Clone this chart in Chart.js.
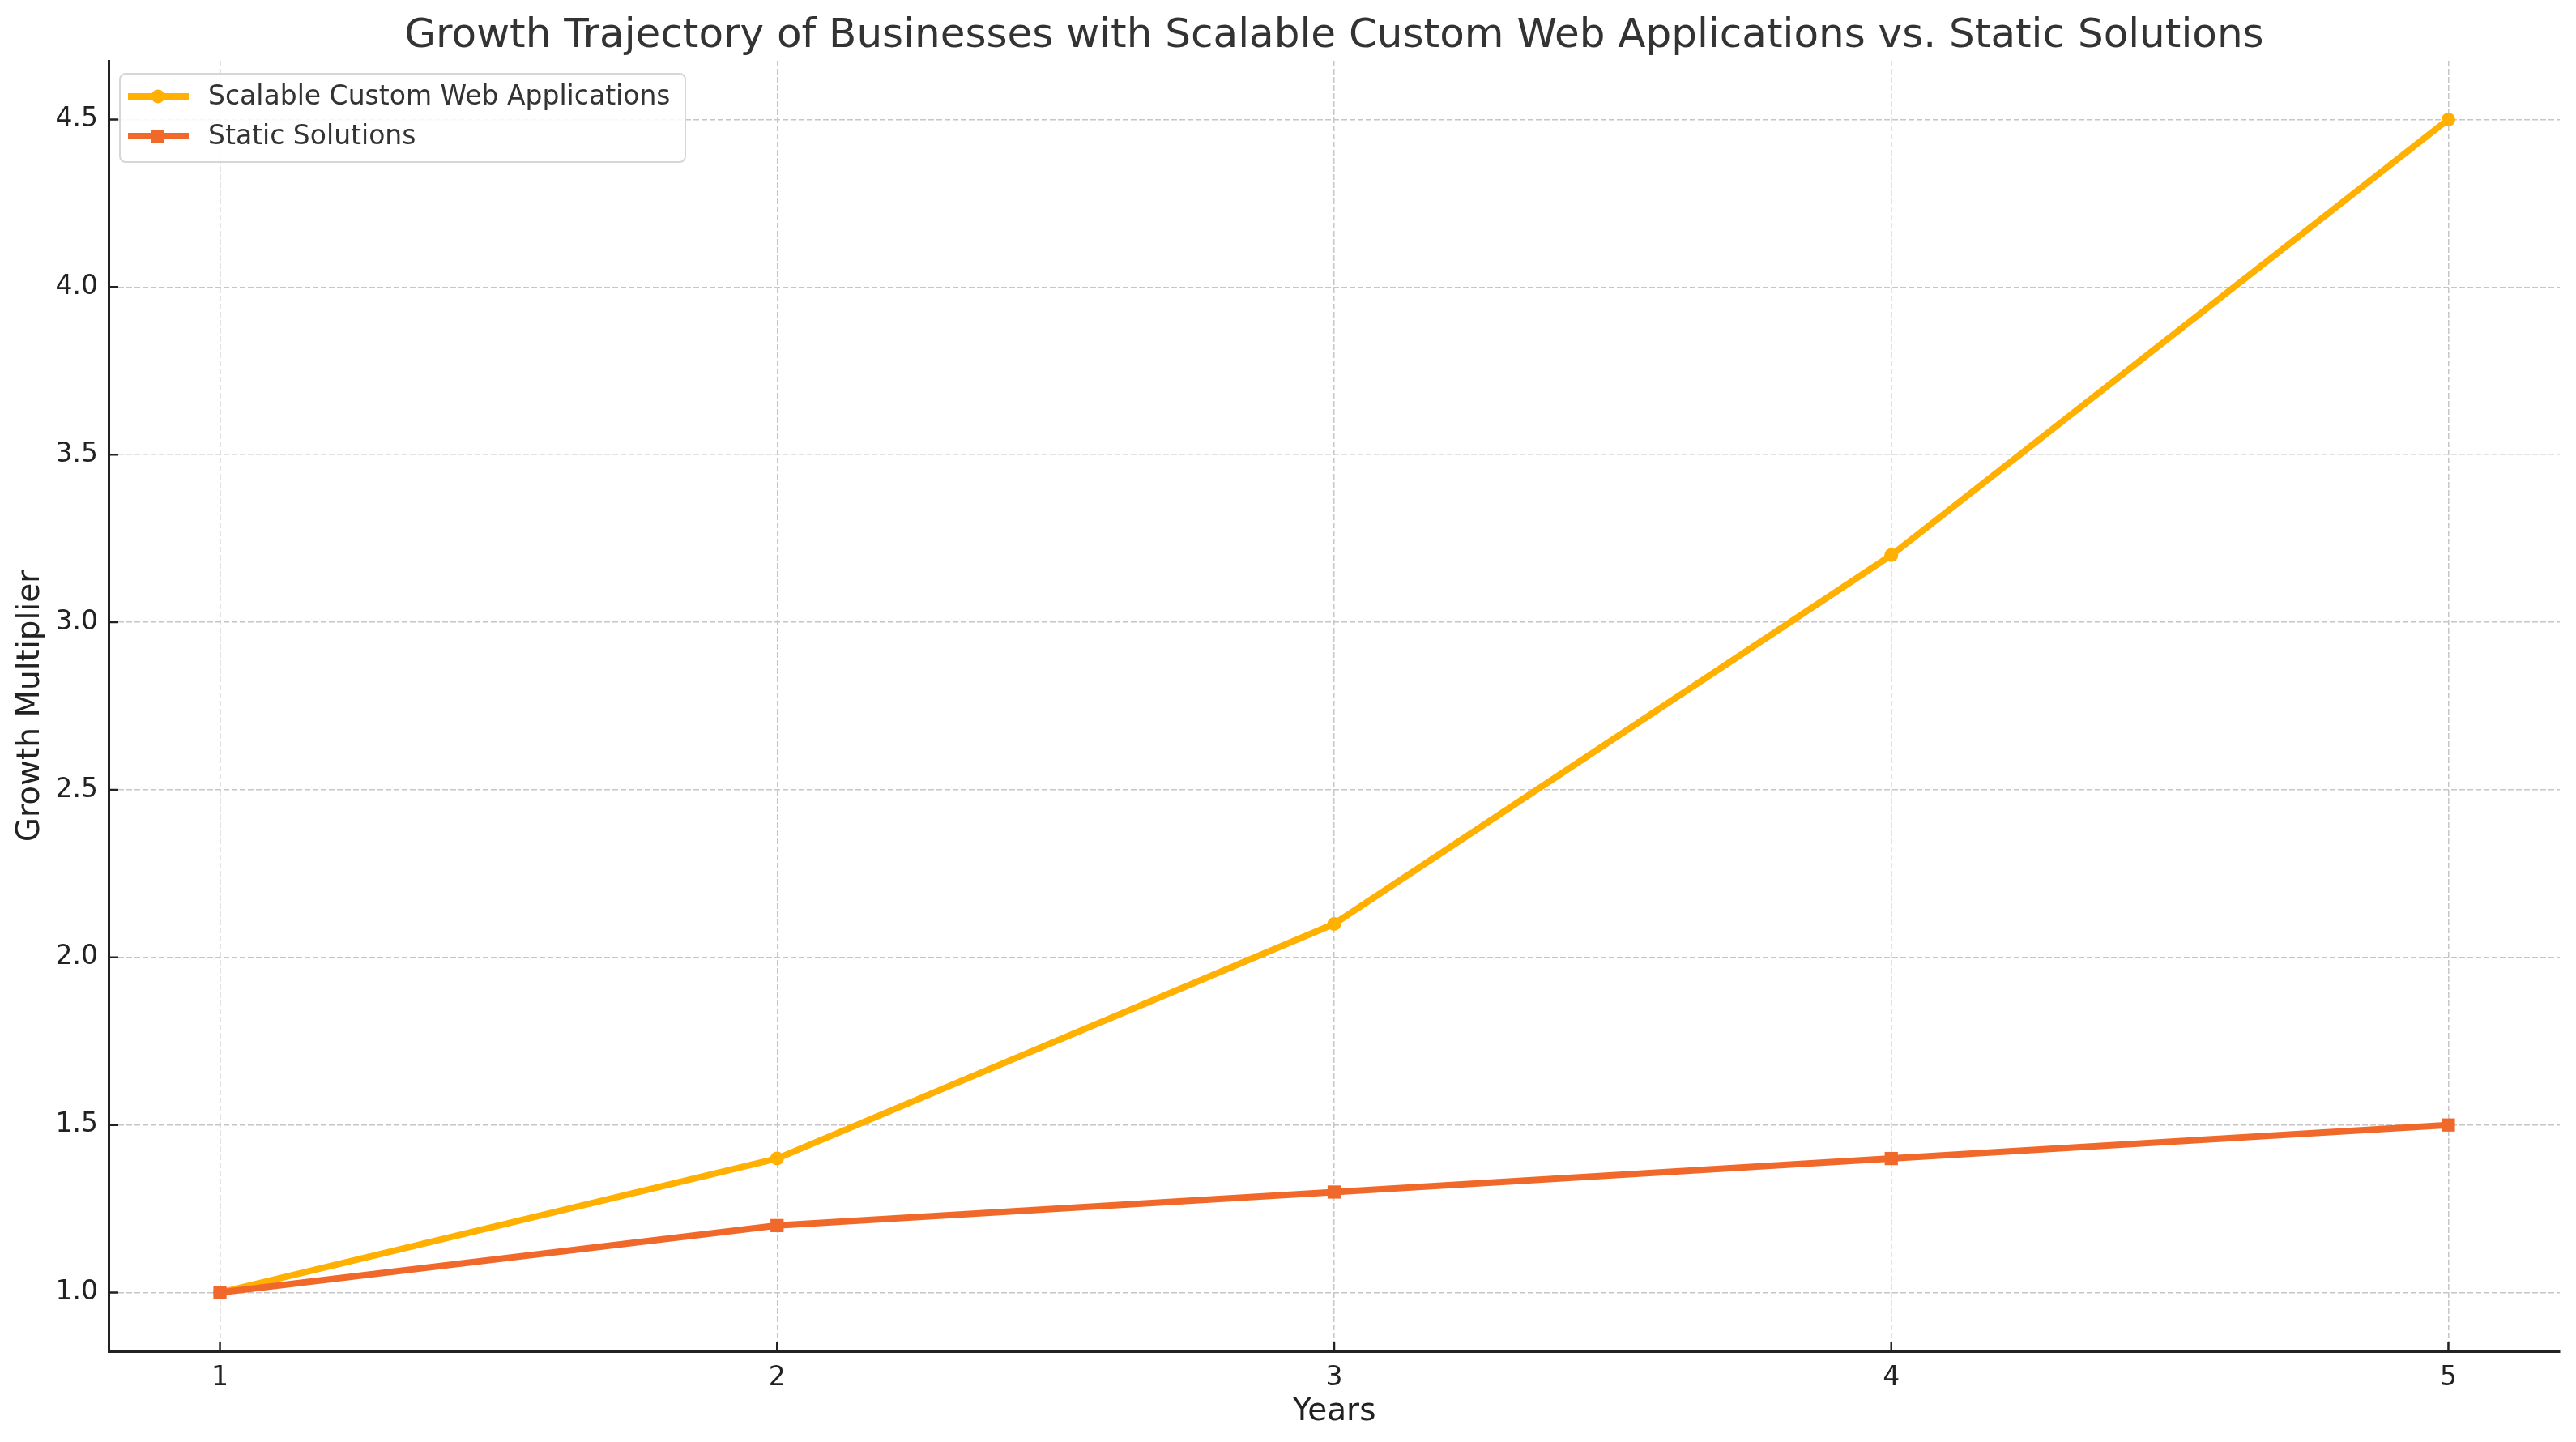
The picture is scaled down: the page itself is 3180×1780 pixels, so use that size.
<!DOCTYPE html>
<html>
<head>
<meta charset="utf-8">
<script src="https://cdn.jsdelivr.net/npm/chart.js@4/dist/chart.umd.min.js"></script>
<style>
  html, body { margin: 0; padding: 0; background: #fff; }
  #wrap { width: 3180px; height: 1780px; position: relative; }
</style>
</head>
<body>
<div id="wrap"><canvas id="growthChart"></canvas></div>
<script>
const years = [1, 2, 3, 4, 5];
const scalableValues = [1.0, 1.4, 2.1, 3.2, 4.5];
const staticValues = [1.0, 1.2, 1.3, 1.4, 1.5];
const yTicks = [1.0, 1.5, 2.0, 2.5, 3.0, 3.5, 4.0, 4.5];
const seriesNames = ['Scalable Custom Web Applications', 'Static Solutions'];
const chartTitle = 'Growth Trajectory of Businesses with Scalable Custom Web Applications vs. Static Solutions';

const FONT = "'DejaVu Sans', sans-serif";
const YELLOW = '#FFB000';
const ORANGE = '#F0692A';

// title centred over the plot area, like matplotlib does
const titlePlugin = {
  id: 'plotTitle',
  afterDraw(chart) {
    const { ctx, chartArea } = chart;
    ctx.save();
    ctx.font = '50px ' + FONT;
    ctx.fillStyle = '#333333';
    ctx.textAlign = 'center';
    ctx.textBaseline = 'alphabetic';
    ctx.fillText(chartTitle, (chartArea.left + chartArea.right) / 2, 58);
    ctx.restore();
  }
};

// tick marks pointing into the plot
const inwardTicks = {
  id: 'inwardTicks',
  afterDraw(chart) {
    const { ctx, chartArea, scales } = chart;
    const len = 12;
    ctx.save();
    ctx.strokeStyle = '#222222';
    ctx.lineWidth = 2.5;
    ctx.beginPath();
    scales.x.ticks.forEach(t => {
      const px = scales.x.getPixelForValue(t.value);
      ctx.moveTo(px, chartArea.bottom);
      ctx.lineTo(px, chartArea.bottom - len);
    });
    scales.y.ticks.forEach(t => {
      const py = scales.y.getPixelForValue(t.value);
      ctx.moveTo(chartArea.left, py);
      ctx.lineTo(chartArea.left + len, py);
    });
    ctx.stroke();
    ctx.restore();
  }
};

// matplotlib style legend box: line + marker sample
const legendPlugin = {
  id: 'boxLegend',
  afterDatasetsDraw(chart) {
    const { ctx } = chart;
    const x = 148, y = 91, w = 698, h = 109, r = 7;
    ctx.save();
    ctx.beginPath();
    ctx.roundRect(x, y, w, h, r);
    ctx.fillStyle = 'rgba(255,255,255,0.85)';
    ctx.fill();
    ctx.lineWidth = 2;
    ctx.strokeStyle = '#d6d6d6';
    ctx.stroke();

    chart.data.datasets.forEach((ds, i) => {
      const cy = 119 + i * 49;
      ctx.beginPath();
      ctx.moveTo(158, cy);
      ctx.lineTo(233, cy);
      ctx.lineWidth = ds.borderWidth;
      ctx.strokeStyle = ds.borderColor;
      ctx.lineCap = 'butt';
      ctx.stroke();
      ctx.fillStyle = ds.borderColor;
      if (ds.pointStyle === 'rect') {
        ctx.fillRect(195 - 8, cy - 8, 16, 16);
      } else {
        ctx.beginPath();
        ctx.arc(195, cy, 8.5, 0, Math.PI * 2);
        ctx.fill();
      }
      ctx.font = '33px ' + FONT;
      ctx.fillStyle = '#333333';
      ctx.textAlign = 'left';
      ctx.textBaseline = 'middle';
      ctx.fillText(ds.label, 257, cy + 1);
    });
    ctx.restore();
  }
};

const ctx = document.getElementById('growthChart');
new Chart(ctx, {
  type: 'line',
  data: {
    datasets: [
      {
        label: seriesNames[0],
        data: years.map((x, i) => ({ x, y: scalableValues[i] })),
        borderColor: YELLOW,
        backgroundColor: YELLOW,
        borderWidth: 8,
        pointStyle: 'circle',
        pointRadius: 8.5,
        pointBorderWidth: 0,
        borderJoinStyle: 'round',
        tension: 0,
        order: 2
      },
      {
        label: seriesNames[1],
        data: years.map((x, i) => ({ x, y: staticValues[i] })),
        borderColor: ORANGE,
        backgroundColor: ORANGE,
        borderWidth: 8,
        pointStyle: 'rect',
        pointRadius: 11.5,
        pointBorderWidth: 0,
        borderJoinStyle: 'round',
        tension: 0,
        order: 1
      }
    ]
  },
  options: {
    responsive: true,
    maintainAspectRatio: false,
    devicePixelRatio: 1,
    animation: false,
    layout: { padding: { top: 75, right: 20, left: 0, bottom: 0 } },
    plugins: {
      legend: { display: false },
      title: { display: false },
      tooltip: { enabled: false }
    },
    scales: {
      x: {
        type: 'linear',
        min: 0.8,
        max: 5.2,
        afterBuildTicks(scale) { scale.ticks = years.map(v => ({ value: v })); },
        afterFit(scale) { scale.height = 112; },
        ticks: {
          color: '#222222',
          font: { family: FONT, size: 33 },
          padding: 14,
          callback: v => String(v)
        },
        grid: {
          color: '#c6c6c6',
          lineWidth: 1.5,
          drawTicks: false
        },
        border: { display: true, color: '#222222', width: 3, dash: [7, 3] },
        title: {
          display: true,
          text: 'Years',
          color: '#222222',
          font: { family: FONT, size: 39 },
          padding: { top: 0, bottom: 14 }
        }
      },
      y: {
        type: 'linear',
        min: 0.825,
        max: 4.675,
        afterBuildTicks(scale) { scale.ticks = yTicks.map(v => ({ value: v })); },
        afterFit(scale) { scale.width = 134; },
        ticks: {
          color: '#222222',
          font: { family: FONT, size: 33 },
          padding: 13,
          callback: v => Number(v).toFixed(1)
        },
        grid: {
          color: '#c6c6c6',
          lineWidth: 1.5,
          drawTicks: false
        },
        border: { display: true, color: '#222222', width: 3, dash: [7, 3] },
        title: {
          display: true,
          text: 'Growth Multiplier',
          color: '#222222',
          font: { family: FONT, size: 39 },
          padding: { top: 14, bottom: 0 }
        }
      }
    }
  },
  plugins: [titlePlugin, inwardTicks, legendPlugin]
});
</script>
</body>
</html>
